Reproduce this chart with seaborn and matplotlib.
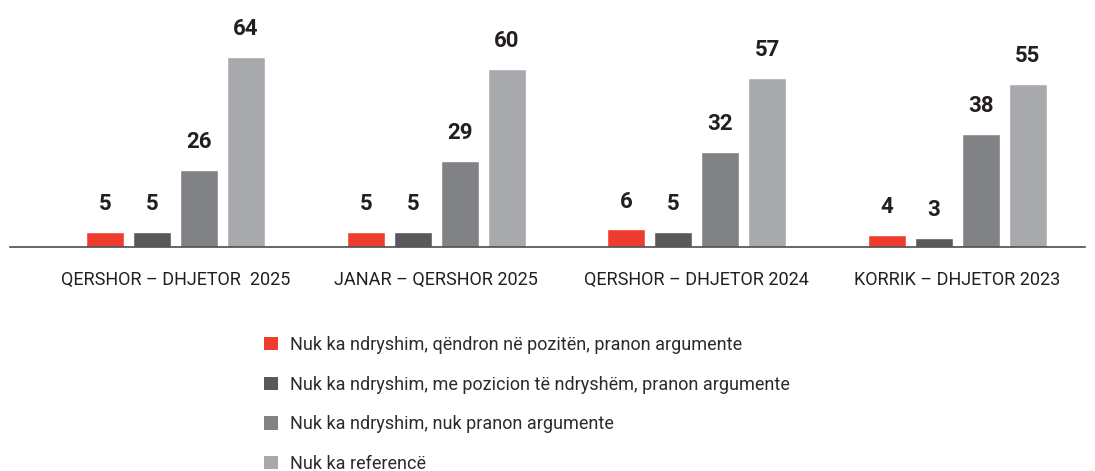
import pandas as pd
import numpy as np
import matplotlib.pyplot as plt
import seaborn as sns
from matplotlib.patches import Patch

# Data
periods = ['QERSHOR – DHJETOR  2025', 'JANAR – QERSHOR 2025',
           'QERSHOR – DHJETOR 2024', 'KORRIK – DHJETOR 2023']
series = ['Nuk ka ndryshim, qëndron në pozitën, pranon argumente',
          'Nuk ka ndryshim, me pozicion të ndryshëm, pranon argumente',
          'Nuk ka ndryshim, nuk pranon argumente',
          'Nuk ka referencë']
stay_accept = [5, 5, 6, 4]
other_accept = [5, 5, 5, 3]
no_accept = [26, 29, 32, 38]
no_reference = [64, 60, 57, 55]
colors = ['#EE3D2F', '#58595B', '#808285', '#A7A9AC']

values = [stay_accept, other_accept, no_accept, no_reference]
df = pd.DataFrame({
    'Period': [p for s in series for p in periods],
    'Series': [s for s in series for p in periods],
    'Value': [v for vals in values for v in vals],
})

sns.set_theme(style='white')
plt.rcParams['font.family'] = ['Roboto', 'DejaVu Sans']

fig = plt.figure(figsize=(10.95, 4.71), dpi=100)
ax = fig.add_axes([10 / 1095, 1 - 247 / 471, 1075 / 1095, 237 / 471])

sns.barplot(data=df, x='Period', y='Value', hue='Series', order=periods,
            hue_order=series, palette=colors, width=0.72, gap=0.19,
            saturation=1, legend=False, ax=ax)

for container in ax.containers:
    for bar in container:
        h = bar.get_height()
        ax.annotate(f'{int(h)}', (bar.get_x() + bar.get_width() / 2, h),
                    xytext=(0, 12), textcoords='offset points',
                    ha='center', va='bottom', fontsize=16, fontweight='bold',
                    color='#231F20', annotation_clip=False)

ax.set_xlim(-0.636, 3.49)
ax.set_ylim(0, 79.8)
ax.set_xlabel('')
ax.set_ylabel('')
ax.set_yticks([])
for side in ['top', 'left', 'right']:
    ax.spines[side].set_visible(False)
ax.spines['bottom'].set_color('#4D4D4F')
ax.spines['bottom'].set_linewidth(1.2)
ax.tick_params(axis='x', length=0, pad=17, labelsize=13, labelcolor='#231F20')

handles = [Patch(facecolor=c, edgecolor='none') for c in colors]
fig.legend(handles, series, loc='upper left',
           bbox_to_anchor=(264 / 1095, 1 - 336 / 471), frameon=False,
           labelspacing=1.2, handlelength=0.75, handleheight=0.75,
           handletextpad=0.7, borderpad=0, borderaxespad=0,
           labelcolor='#2B2B2B', prop={'family': 'Roboto', 'size': 13})

fig.savefig('out.png', dpi=100)
